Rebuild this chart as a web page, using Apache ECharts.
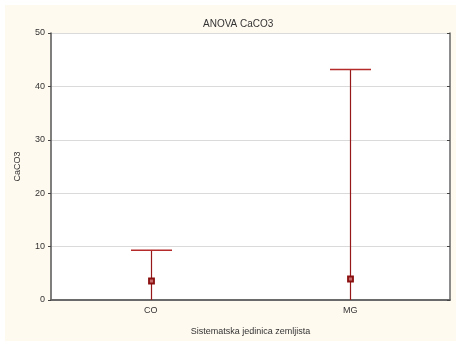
<!DOCTYPE html>
<html>
<head>
<meta charset="utf-8">
<script src="https://cdn.jsdelivr.net/npm/echarts@6/dist/echarts.min.js"></script>
<style>
  html, body { margin: 0; padding: 0; background: #ffffff; overflow: hidden; }
  #chart { position: absolute; left: 5px; top: 5px; width: 451px; height: 336px; }
</style>
</head>
<body>
<div id="chart"></div>
<script>
// Groups and their CaCO3 means with confidence limits
const categories = ['CO', 'MG'];
const means = [3.55, 3.92];
const upperLimits = [9.33, 43.17];
const lowerLimits = [-2.23, -35.33];
const yTicks = [0, 10, 20, 30, 40, 50];

const FONT = 'Liberation Sans, Arial, sans-serif';
const BAR_COLOR = '#961818';
const CAP_COLOR = '#b52a2a';

const chart = echarts.init(document.getElementById('chart'), null, { renderer: 'canvas' });

function barLine(x1, y1, x2, y2, color, width) {
  return {
    type: 'line',
    shape: { x1: x1, y1: y1, x2: x2, y2: y2 },
    style: { stroke: color, lineWidth: width }
  };
}

function renderErrorBar(params, api) {
  const cat = api.value(0);
  const x = api.coord([cat, 0])[0];
  const yMean = api.coord([cat, api.value(1)])[1];
  const yLow = api.coord([cat, api.value(2)])[1];
  const yHigh = api.coord([cat, api.value(3)])[1];
  const half = 20.5;
  const xs = Math.round(x) + 0.5;
  return {
    type: 'group',
    children: [
      barLine(xs, yLow, xs, yHigh, BAR_COLOR, 1.2),
      barLine(xs - half, yHigh, xs + half, yHigh, CAP_COLOR, 1.4),
      barLine(xs - half, yLow, xs + half, yLow, CAP_COLOR, 1.4),
      {
        type: 'rect',
        shape: { x: xs - 2.5, y: Math.round(yMean) - 2.5, width: 5, height: 5 },
        style: { fill: '#c86a6a', stroke: '#8a0f0f', lineWidth: 1.8 }
      }
    ]
  };
}

const labelStyle = { color: '#333', fontFamily: FONT, fontSize: 9 };

chart.setOption({
  backgroundColor: '#fffaf0',
  animation: false,
  title: {
    text: 'ANOVA CaCO3',
    left: 193,
    top: 9,
    textStyle: { color: '#333', fontFamily: FONT, fontSize: 10, fontWeight: 'normal' }
  },
  grid: { left: 44, top: 28, width: 401, height: 268, show: true, backgroundColor: '#ffffff', borderWidth: 0 },
  xAxis: [
    {
      type: 'category',
      data: categories,
      position: 'bottom',
      name: 'Sistematska jedinica zemljista',
      nameLocation: 'middle',
      nameGap: 27,
      nameTextStyle: labelStyle,
      axisLine: { lineStyle: { color: '#555', width: 1.5 } },
      axisTick: { alignWithLabel: true, length: 3, lineStyle: { color: '#444' } },
      axisLabel: Object.assign({ margin: 6 }, labelStyle),
      splitLine: { show: false }
    },
    {
      type: 'category',
      data: categories,
      position: 'top',
      axisLine: { lineStyle: { color: '#666', width: 1.5 } },
      axisTick: { alignWithLabel: true, inside: true, length: 3, lineStyle: { color: '#444' } },
      axisLabel: { show: false },
      splitLine: { show: false }
    }
  ],
  yAxis: [
    {
      type: 'value',
      min: yTicks[0],
      max: yTicks[yTicks.length - 1],
      interval: 10,
      position: 'left',
      name: 'CaCO3',
      nameLocation: 'middle',
      nameGap: 29,
      nameRotate: 90,
      nameTextStyle: labelStyle,
      axisLine: { show: true, lineStyle: { color: '#555', width: 1.5 } },
      axisTick: { show: true, length: 3, lineStyle: { color: '#444' } },
      axisLabel: Object.assign({ margin: 6 }, labelStyle),
      splitLine: { show: true, lineStyle: { color: '#dadada', width: 1 } }
    },
    {
      type: 'value',
      min: yTicks[0],
      max: yTicks[yTicks.length - 1],
      interval: 10,
      position: 'right',
      axisLine: { show: true, lineStyle: { color: '#666', width: 1.5 } },
      axisTick: { show: true, inside: true, length: 3, lineStyle: { color: '#444' } },
      axisLabel: { show: false },
      splitLine: { show: false }
    }
  ],
  series: [
    {
      type: 'custom',
      clip: true,
      renderItem: renderErrorBar,
      encode: { x: 0, y: [1, 2, 3] },
      data: categories.map((c, i) => [i, means[i], lowerLimits[i], upperLimits[i]]),
      z: 5
    }
  ]
});
</script>
</body>
</html>
